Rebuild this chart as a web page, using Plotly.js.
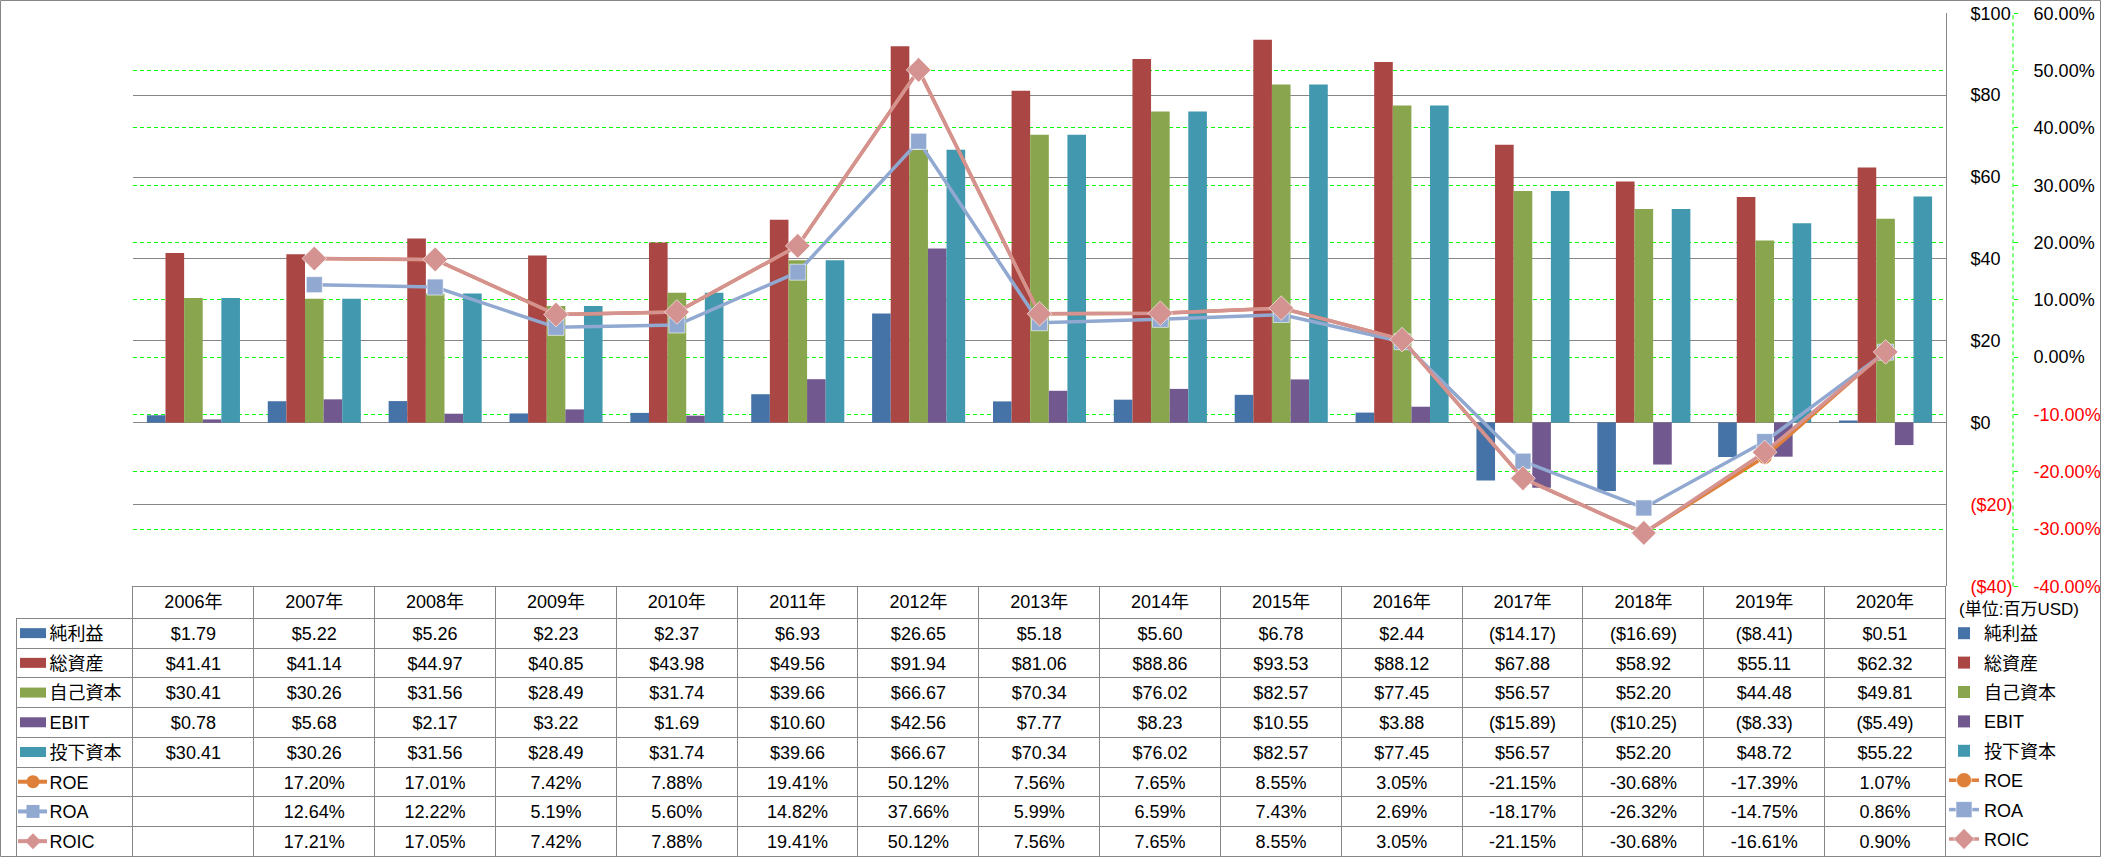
<!DOCTYPE html>
<html><head><meta charset="utf-8">
<script src="https://cdn.plot.ly/plotly-3.0.1.min.js"></script>
<style>html,body{margin:0;padding:0;background:#fff}</style>
</head><body><div id="chart" style="width:2101px;height:858px"></div>
<script>
// ---------- data ----------
const years = ['2006年','2007年','2008年','2009年','2010年','2011年','2012年','2013年','2014年','2015年','2016年','2017年','2018年','2019年','2020年'];
const netIncome   = [1.79, 5.22, 5.26, 2.23, 2.37, 6.93, 26.65, 5.18, 5.60, 6.78, 2.44, -14.17, -16.69, -8.41, 0.51];
const totalAssets = [41.41, 41.14, 44.97, 40.85, 43.98, 49.56, 91.94, 81.06, 88.86, 93.53, 88.12, 67.88, 58.92, 55.11, 62.32];
const equity      = [30.41, 30.26, 31.56, 28.49, 31.74, 39.66, 66.67, 70.34, 76.02, 82.57, 77.45, 56.57, 52.20, 44.48, 49.81];
const ebit        = [0.78, 5.68, 2.17, 3.22, 1.69, 10.60, 42.56, 7.77, 8.23, 10.55, 3.88, -15.89, -10.25, -8.33, -5.49];
const investedCap = [30.41, 30.26, 31.56, 28.49, 31.74, 39.66, 66.67, 70.34, 76.02, 82.57, 77.45, 56.57, 52.20, 48.72, 55.22];
const roe  = [null, 17.20, 17.01, 7.42, 7.88, 19.41, 50.12, 7.56, 7.65, 8.55, 3.05, -21.15, -30.68, -17.39, 1.07];
const roa  = [null, 12.64, 12.22, 5.19, 5.60, 14.82, 37.66, 5.99, 6.59, 7.43, 2.69, -18.17, -26.32, -14.75, 0.86];
const roic = [null, 17.21, 17.05, 7.42, 7.88, 19.41, 50.12, 7.56, 7.65, 8.55, 3.05, -21.15, -30.68, -16.61, 0.90];
const barNames  = ['純利益','総資産','自己資本','EBIT','投下資本'];
const lineNames = ['ROE','ROA','ROIC'];
const usdTicks = [-40, -20, 0, 20, 40, 60, 80, 100];
const pctTicks = [-40, -30, -20, -10, 0, 10, 20, 30, 40, 50, 60];
const unitLabel = '(単位:百万USD)';

// ---------- styles ----------
const W = 2101, H = 858;
const FONT = 'Liberation Sans, Arial, "Noto Sans CJK JP", sans-serif';
const barColors  = ['#4572A7', '#AA4643', '#89A54E', '#71588F', '#4198AF'];
const lineColors = ['#DE803A', '#91A9D1', '#D49391'];
const symbols    = ['circle', 'square', 'diamond'];
const markerSizes = [15, 16, 19];
const GRID = '#868686', GREEN = '#00FF00', RED = '#FF0000';
const px = x => x / W, py = y => 1 - y / H;

const plotL = 133, plotR = 1946, plotT = 13.3, plotB = 587;
const tableL = 16.5, headerH = 32, rowH = 29.75;

const usd = v => v < 0 ? '($' + (-v).toFixed(2) + ')' : '$' + v.toFixed(2);
const pct = v => v === null ? '' : v.toFixed(2) + '%';
const red = s => '<span style="color:' + RED + '">' + s + '</span>';

// ---------- traces ----------
const barSeries = [netIncome, totalAssets, equity, ebit, investedCap];
const lineSeries = [roe, roa, roic];
const traces = [];
barSeries.forEach((vals, i) => traces.push({
  type: 'bar', name: barNames[i], x: years, y: vals,
  marker: {color: barColors[i]}, legendgroup: 'g' + i, hoverinfo: 'x+y+name'
}));
lineSeries.forEach((vals, i) => traces.push({
  type: 'scatter', mode: 'lines+markers', name: lineNames[i], x: years, y: vals, yaxis: 'y2',
  line: {color: lineColors[i], width: 3.5}, connectgaps: false,
  marker: {symbol: symbols[i], size: markerSizes[i], color: lineColors[i], line: {color: '#ffffff', width: 0.6}},
  legendgroup: 'l' + i
}));

// table
const allSeries = barSeries.concat(lineSeries);
const rowLabels = barNames.concat(lineNames).map(s => '\u00a0\u00a0\u00a0\u00a0\u00a0' + s);
const cols = [rowLabels];
years.forEach((y, j) => {
  cols.push(allSeries.map((s, k) => k < 5 ? usd(s[j]) : pct(s[j])));
});
const colW = [plotL - tableL].concat(years.map(() => (plotR - plotL) / years.length));
traces.push({
  type: 'table',
  domain: {x: [px(tableL), px(plotR)], y: [0, py(plotB)]},
  columnwidth: colW,
  header: {
    values: [''].concat(years), height: headerH, align: 'center',
    line: {color: ['rgba(0,0,0,0)'].concat(years.map(() => GRID)), width: 1},
    fill: {color: 'rgba(255,255,255,0)'},
    font: {family: FONT, size: 18, color: '#000'}
  },
  cells: {
    values: cols, height: rowH, align: ['left'].concat(years.map(() => 'center')),
    line: {color: GRID, width: 1}, fill: {color: 'rgba(255,255,255,0)'},
    font: {family: FONT, size: 18, color: '#000'}
  }
});

// ---------- shapes ----------
const shapes = [
  {type: 'rect', xref: 'paper', yref: 'paper', x0: px(0.5), x1: px(2100.5), y0: py(857.5), y1: py(0.5), line: {color: GRID, width: 1}},
  {type: 'line', xref: 'paper', yref: 'paper', x0: px(2013), x1: px(2013), y0: py(plotB), y1: py(plotT), line: {color: GREEN, width: 1, dash: '4px,3px'}}
];
for (let i = 0; i < 8; i++) {
  const cy = plotB + headerH + rowH * (i + 0.5);
  if (i < 5) {
    shapes.push({type: 'rect', xref: 'paper', yref: 'paper', x0: px(20), x1: px(46), y0: py(cy + 5), y1: py(cy - 5), fillcolor: barColors[i], line: {width: 0}});
  } else {
    const k = i - 5, c = lineColors[k];
    shapes.push({type: 'line', xref: 'paper', yref: 'paper', x0: px(18), x1: px(47), y0: py(cy), y1: py(cy), line: {color: c, width: 4}});
    const r = 6.5;
    if (k === 0) shapes.push({type: 'circle', xref: 'paper', yref: 'paper', x0: px(33 - r), x1: px(33 + r), y0: py(cy + r), y1: py(cy - r), fillcolor: c, line: {width: 0}});
    if (k === 1) shapes.push({type: 'rect', xref: 'paper', yref: 'paper', x0: px(33 - r), x1: px(33 + r), y0: py(cy + r), y1: py(cy - r), fillcolor: c, line: {width: 0}});
    if (k === 2) {
      const d = 8;
      shapes.push({type: 'path', xref: 'paper', yref: 'paper',
        path: `M ${px(33 - d)} ${py(cy)} L ${px(33)} ${py(cy - d)} L ${px(33 + d)} ${py(cy)} L ${px(33)} ${py(cy + d)} Z`,
        fillcolor: c, line: {width: 0}});
    }
  }
}

const layout = {
  width: W, height: H, margin: {l: 0, r: 0, t: 0, b: 0},
  paper_bgcolor: '#fff', plot_bgcolor: 'rgba(0,0,0,0)',
  font: {family: FONT, size: 18, color: '#000'},
  barmode: 'group', bargap: 0.23, bargroupgap: 0,
  xaxis: {domain: [px(plotL), px(plotR)], type: 'category', range: [-0.5, years.length - 0.5], autorange: false,
    showticklabels: false, showgrid: false, zeroline: false, showline: false, fixedrange: true},
  yaxis: {
    domain: [py(plotB), py(plotT)], range: [-40, 100], side: 'right',
    tickvals: usdTicks, ticktext: usdTicks.map(v => v < 0 ? red('($' + (-v) + ')') : '$' + v),
    showgrid: true, gridcolor: GRID, gridwidth: 1, zeroline: true, zerolinecolor: GRID, zerolinewidth: 1,
    showline: true, linecolor: GRID, linewidth: 1, ticks: '', ticklabelstandoff: 20,
    tickfont: {size: 18}, fixedrange: true
  },
  yaxis2: {
    overlaying: 'y', side: 'right', anchor: 'free', position: px(2013), range: [-40, 60],
    tickvals: pctTicks, ticktext: pctTicks.map(v => v < 0 ? red(v.toFixed(2) + '%') : v.toFixed(2) + '%'),
    showgrid: true, gridcolor: GREEN, gridwidth: 1, griddash: '4px,3px', zeroline: false, showline: false,
    ticks: 'outside', ticklen: 4, tickcolor: GREEN, ticklabelstandoff: 12,
    tickfont: {size: 18}, fixedrange: true
  },
  showlegend: true,
  legend: {x: px(1944), y: py(616), xanchor: 'left', yanchor: 'top', font: {size: 18}, tracegroupgap: 3,
    bgcolor: 'rgba(0,0,0,0)', borderwidth: 0, itemclick: false, itemdoubleclick: false},
  annotations: [{xref: 'paper', yref: 'paper', x: px(1957), y: py(610), xanchor: 'left', yanchor: 'middle',
    text: unitLabel, showarrow: false, font: {size: 17}}],
  shapes: shapes
};
Plotly.newPlot('chart', traces, layout, {displayModeBar: false, staticPlot: false});
</script></body></html>
